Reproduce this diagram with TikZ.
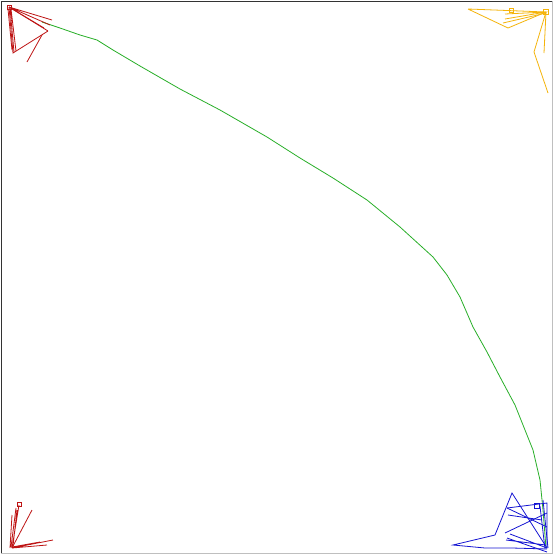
\documentclass[tikz,border=0pt]{standalone}
\definecolor{rd}{RGB}{190,20,20}
\definecolor{yl}{RGB}{245,180,10}
\definecolor{gr}{RGB}{40,175,40}
\definecolor{bl}{RGB}{20,20,210}
\tikzset{trace/.style={line width=0.8pt, line join=miter}}
\begin{document}
\begin{tikzpicture}[x=1pt,y=-1pt]
\useasboundingbox (0,0) rectangle (553,555);
\fill[white] (0,0) rectangle (553,555);
% frame
\draw[line width=1pt, black!80] (1,553) -- (1,1) -- (552,1);
\draw[line width=1pt, black!25] (1,553.5) -- (552,553.5) -- (552,1);
% green path
\draw[trace, gr] (42,22) -- (60,28) -- (80,35) -- (97,40) -- (113,50) -- (140,66) -- (180,89) -- (220,110) -- (267,137) -- (300,158) -- (333,178) -- (367,200) -- (400,227) -- (433,257) -- (447,275) -- (460,297) -- (473,327) -- (487,352) -- (500,377) -- (515,405) -- (533,450) -- (540,480) -- (543,510) -- (546,548);
% red top-left
\draw[trace, rd] (7,5) rectangle (11,9);
\draw[trace, rd] (9,7) -- (52,20) -- (9,7) -- (50,25) -- (9,7) -- (48,31);
\draw[trace, rd] (9,7) -- (13,53) -- (48,31);
\draw[trace, rd] (10,8) -- (14,52) (8,9) -- (12,50) (11,9) -- (16,51);
\draw[trace, rd] (42,35) -- (27,62);
\draw[trace, rd] (9,7) -- (44,28);
% yellow top-right
\draw[trace, yl] (468,9) -- (546,12) -- (508,28) -- (468,9);
\draw[trace, yl] (505,14) -- (546,12) -- (505,19) (503,23) -- (546,13);
\draw[trace, yl] (509,8) rectangle (513,12);
\draw[trace, yl] (543,9) rectangle (548,14);
\draw[trace, yl] (546,12) -- (534,52) -- (548,93);
\draw[trace, yl] (546,12) -- (544,53);
% red bottom-left
\draw[trace, rd] (17,502) rectangle (21,506);
\draw[trace, rd] (12,548) -- (19,505) (11,547) -- (16,508) (13,546) -- (17,510) (10,548) -- (12,515);
\draw[trace, rd] (12,548) -- (32,510);
\draw[trace, rd] (12,548) -- (53,540) (12,548) -- (47,545) (12,547) -- (40,542);
% blue bottom-right
\draw[trace, bl] (547,548) -- (512,493) -- (495,535) -- (453,545) -- (485,548) -- (512,548) -- (547,549);
\draw[trace, bl] (507,508) -- (547,503) -- (547,548);
\draw[trace, bl] (534,503) rectangle (539,508);
\draw[trace, bl] (507,508) -- (547,527);
\draw[trace, bl] (508,515) -- (542,520);
\draw[trace, bl] (505,533) -- (547,513);
\draw[trace, bl] (507,538) -- (547,552) (506,540) -- (546,545) (510,534) -- (547,548);
\draw[trace, bl] (540,506) -- (545,549) (543,500) -- (548,548);
\end{tikzpicture}
\end{document}
